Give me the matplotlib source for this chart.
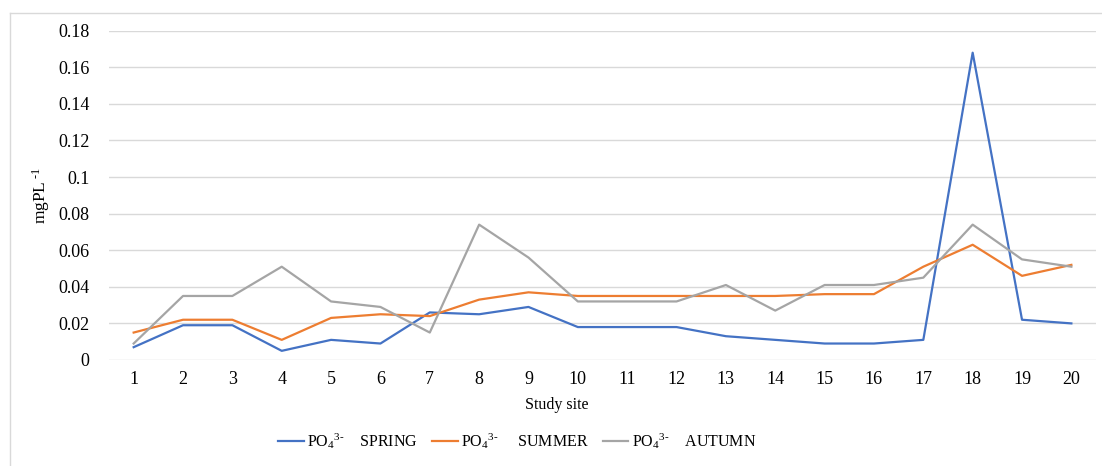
import numpy as np
import matplotlib
matplotlib.use("Agg")
import matplotlib.pyplot as plt
from matplotlib.lines import Line2D

# DATOS
sitios = [str(i) for i in range(1, 21)]

spring = [0.007, 0.019, 0.019, 0.005, 0.011, 0.009, 0.026, 0.025, 0.029, 0.018,
          0.018, 0.018, 0.013, 0.011, 0.009, 0.009, 0.011, 0.168, 0.022, 0.020]
summer = [0.015, 0.022, 0.022, 0.011, 0.023, 0.025, 0.024, 0.033, 0.037, 0.035,
          0.035, 0.035, 0.035, 0.035, 0.036, 0.036, 0.051, 0.063, 0.046, 0.052]
autumn = [0.009, 0.035, 0.035, 0.051, 0.032, 0.029, 0.015, 0.074, 0.056, 0.032,
          0.032, 0.032, 0.041, 0.027, 0.041, 0.041, 0.045, 0.074, 0.055, 0.051]

etiquetas = [r'PO$_4$$^{3\text{-}}$    SPRING',
             r'PO$_4$$^{3\text{-}}$     SUMMER',
             r'PO$_4$$^{3\text{-}}$    AUTUMN']
yticks = [0, 0.02, 0.04, 0.06, 0.08, 0.1, 0.12, 0.14, 0.16, 0.18]

plt.rcParams['font.family'] = ['Liberation Serif', 'DejaVu Serif']
plt.rcParams['mathtext.fontset'] = 'custom'
plt.rcParams['mathtext.rm'] = 'Liberation Serif'
plt.rcParams['mathtext.it'] = 'Liberation Serif'

fig = plt.figure(figsize=(11.02, 4.66), dpi=100)
ax = fig.add_axes([0.0989, 0.2275, 0.8957, 0.7065])

x = np.arange(1, 21)
colores = ['#4472C4', '#ED7D31', '#A5A5A5']
for serie, col, lab in zip([spring, summer, autumn], colores, etiquetas):
    ax.plot(x, serie, color=col, linewidth=1.6, label=lab)

ax.set_xlim(0.5, 20.5)
ax.set_ylim(0, 0.18)
ax.set_xticks(x)
ax.set_xticklabels(sitios)
ax.set_yticks(yticks)
ax.set_yticklabels(['0' if v == 0 else f'{v:g}' for v in yticks])
ax.tick_params(length=0, labelsize=13, colors='#000000')
ax.tick_params(axis='y', pad=14)
ax.tick_params(axis='x', pad=8)

ax.grid(axis='y', color='#d9d9d9', linewidth=1)
ax.set_axisbelow(True)
for s in ax.spines.values():
    s.set_visible(False)

ax.set_ylabel(r'mgPL$^{\ \text{-}1}$', fontsize=12.5)
ax.yaxis.set_label_coords(-0.058, 0.5)

fig.text(0.5054, 1 - 405 / 466, 'Study site', ha='center', va='center', fontsize=11.5)

fig.legend(loc='center', bbox_to_anchor=(517 / 1102, 1 - 441 / 466), ncol=3,
           frameon=False, fontsize=11.5, handlelength=1.6, handletextpad=0.2,
           columnspacing=0.9)

# borde del grafico
fig.add_artist(Line2D([9.5 / 1102, 9.5 / 1102], [0, 1 - 13 / 466],
                      transform=fig.transFigure, color='#d9d9d9', linewidth=1))
fig.add_artist(Line2D([9.5 / 1102, 1], [1 - 13 / 466, 1 - 13 / 466],
                      transform=fig.transFigure, color='#d9d9d9', linewidth=1))

fig.savefig('out.png', dpi=100)
